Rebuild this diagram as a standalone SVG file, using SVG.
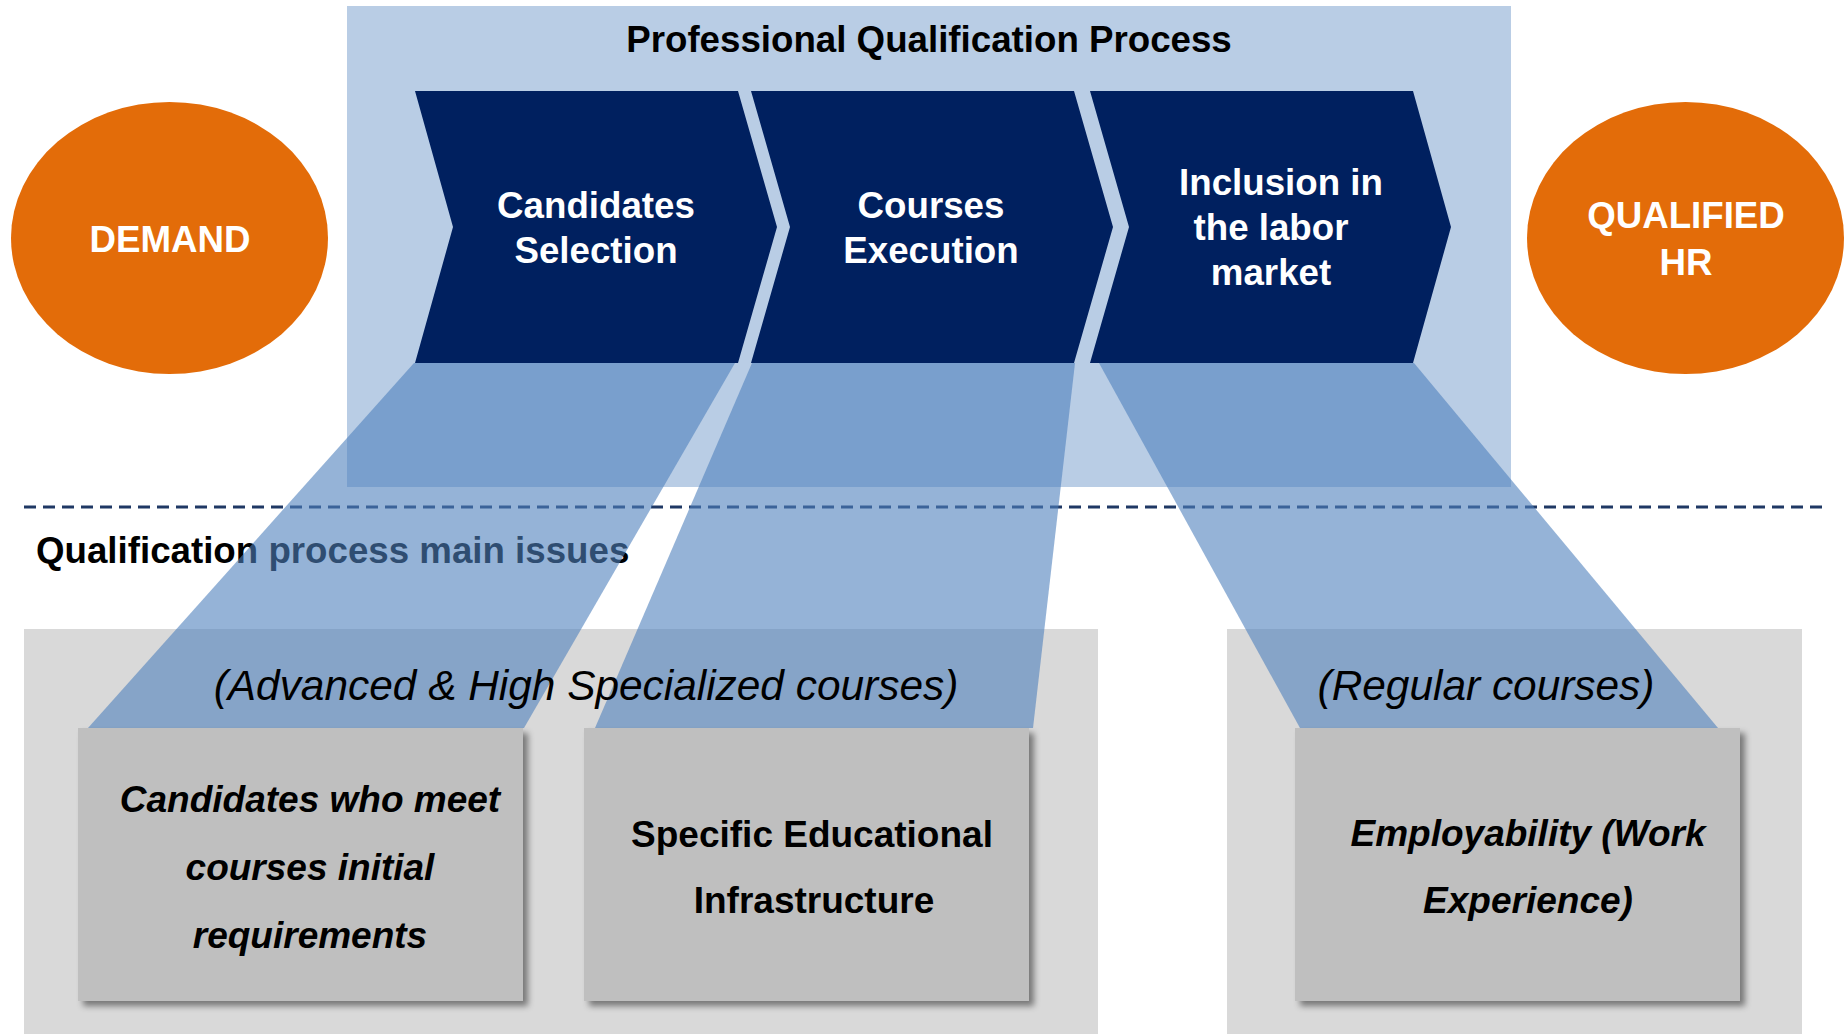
<svg xmlns="http://www.w3.org/2000/svg" width="1847" height="1034" viewBox="0 0 1847 1034">
  <defs>
    <filter id="shadow" x="-5%" y="-5%" width="115%" height="115%">
      <feDropShadow dx="5" dy="5" stdDeviation="3" flood-color="#000" flood-opacity="0.45"/>
    </filter>
    <style>
      text { font-family: "Liberation Sans", Arial, sans-serif; }
      .bold { font-weight: bold; }
      .white { fill: #ffffff; }
      .black { fill: #000000; }
      .chev { fill: #00205F; }
      .oval { fill: #E36C09; }
      .panel { fill: #D9D9D9; }
      .box { fill: #BFBFBF; filter: url(#shadow); }
      .beam { fill: #4F81BD; fill-opacity: 0.6; }
      .t36 { font-size: 36.7px; font-weight: bold; text-anchor: middle; }
      .sub { font-size: 42.4px; font-style: italic; text-anchor: middle; fill: #000; }
      .boxt { font-size: 37px; font-weight: bold; text-anchor: middle; fill: #000; }
    </style>
  </defs>
  <rect width="1847" height="1034" fill="#ffffff"/>

  <g id="process-frame">
    <rect x="347" y="6" width="1164" height="481" fill="#B9CDE5"/>
    <text x="929" y="52" class="t36 black">Professional Qualification Process</text>
  </g>

  <g id="chevron-candidates-selection">
    <polygon class="chev" points="415,91 738,91 777,227 738,363 415,363 453,227"/>
    <text x="596" y="218" class="t36 white">Candidates</text>
    <text x="596" y="263" class="t36 white">Selection</text>
  </g>
  <g id="chevron-courses-execution">
    <polygon class="chev" points="751,91 1074,91 1113,227 1074,363 751,363 790,227"/>
    <text x="931" y="218" class="t36 white">Courses</text>
    <text x="931" y="263" class="t36 white">Execution</text>
  </g>
  <g id="chevron-inclusion">
    <polygon class="chev" points="1090,91 1413,91 1451,227 1413,363 1090,363 1129,227"/>
    <text x="1281" y="195" class="t36 white">Inclusion in</text>
    <text x="1271" y="240" class="t36 white">the labor</text>
    <text x="1271" y="285" class="t36 white">market</text>
  </g>

  <g id="demand">
    <ellipse class="oval" cx="169.5" cy="238" rx="158.5" ry="136"/>
    <text x="170" y="252" class="t36 white">DEMAND</text>
  </g>
  <g id="qualified-hr">
    <ellipse class="oval" cx="1685.5" cy="238" rx="158.5" ry="136"/>
    <text x="1686" y="228" class="t36 white">QUALIFIED</text>
    <text x="1686" y="275" class="t36 white">HR</text>
  </g>

  <g id="issues-section">
    <line x1="24" y1="507" x2="1826" y2="507" stroke="#1F3864" stroke-width="3" stroke-dasharray="12 7"/>
    <text x="36" y="563" class="bold black" font-size="36.7">Qualification process main issues</text>
  </g>

  <g id="panel-advanced">
    <rect class="panel" x="24" y="629" width="1074" height="405"/>
  </g>
  <g id="panel-regular">
    <rect class="panel" x="1227" y="629" width="575" height="405"/>
  </g>

  <g id="connectors">
    <polygon class="beam" points="414,363 735,363 524,728 88,728"/>
    <polygon class="beam" points="752,363 1075,363 1033,728 595,728"/>
    <polygon class="beam" points="1099,363 1414,363 1718,728 1300,728"/>
  </g>

  <g id="panel-labels">
    <text x="586" y="700" class="sub">(Advanced &amp; High Specialized courses)</text>
    <text x="1486" y="700" class="sub">(Regular courses)</text>
  </g>

  <g id="box-candidates">
    <rect class="box" x="78" y="728" width="445" height="273"/>
    <text x="310" y="812" class="boxt" font-style="italic">Candidates who meet</text>
    <text x="310" y="880" class="boxt" font-style="italic">courses initial</text>
    <text x="310" y="948" class="boxt" font-style="italic">requirements</text>
  </g>
  <g id="box-infrastructure">
    <rect class="box" x="584" y="728" width="445" height="273"/>
    <text x="812" y="847" class="boxt">Specific Educational</text>
    <text x="814" y="913" class="boxt">Infrastructure</text>
  </g>
  <g id="box-employability">
    <rect class="box" x="1295" y="728" width="445" height="273"/>
    <text x="1528" y="846" class="boxt" font-style="italic">Employability (Work</text>
    <text x="1528" y="913" class="boxt" font-style="italic">Experience)</text>
  </g>
</svg>
